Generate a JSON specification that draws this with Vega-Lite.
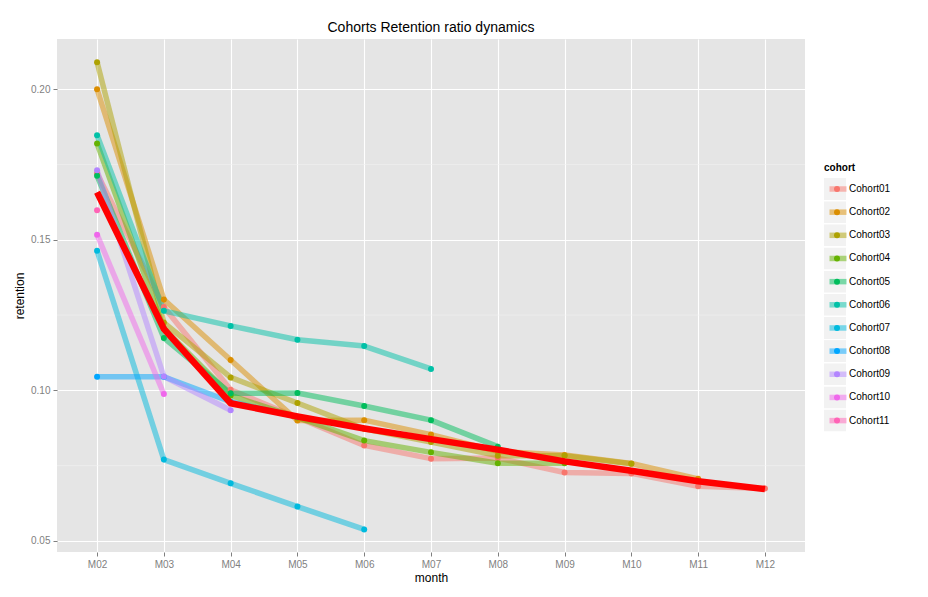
{
  "$schema": "https://vega.github.io/schema/vega-lite/v6.json",
  "width": 748,
  "height": 513,
  "autosize": {"type": "none"},
  "padding": {"left": 57, "top": 39, "right": 123, "bottom": 45},
  "background": "white",
  "title": {
    "text": "Cohorts Retention ratio dynamics",
    "anchor": "middle",
    "fontSize": 14,
    "fontWeight": "normal",
    "color": "black",
    "font": "Liberation Sans",
    "offset": 4
  },
  "config": {
    "font": "Liberation Sans",
    "view": {"fill": "#e5e5e5", "stroke": null},
    "axis": {
      "domain": false,
      "gridColor": "white",
      "gridWidth": 1.1,
      "tickColor": "#7f7f7f",
      "tickSize": 4,
      "labelColor": "#7f7f7f",
      "labelFontSize": 10,
      "labelFont": "Liberation Sans",
      "titleFont": "Liberation Sans",
      "titleFontSize": 12,
      "titleFontWeight": "normal",
      "titleColor": "black"
    },
    "legend": {
      "orient": "none",
      "legendY": 124,
      "titleFontSize": 10,
      "titleFontWeight": "bold",
      "titleColor": "black",
      "titlePadding": 5,
      "labelFontSize": 10,
      "labelColor": "black",
      "clipHeight": 22,
      "rowPadding": 1.16
    }
  },
  "datasets": {
    "keys": [
      {"cohort": "Cohort01"}, {"cohort": "Cohort02"}, {"cohort": "Cohort03"},
      {"cohort": "Cohort04"}, {"cohort": "Cohort05"}, {"cohort": "Cohort06"},
      {"cohort": "Cohort07"}, {"cohort": "Cohort08"}, {"cohort": "Cohort09"},
      {"cohort": "Cohort10"}, {"cohort": "Cohort11"}
    ],
    "cohorts": [
      {"cohort": "Cohort01", "month": "M02", "retention": 0.172},
      {"cohort": "Cohort01", "month": "M03", "retention": 0.1277},
      {"cohort": "Cohort01", "month": "M04", "retention": 0.1002},
      {"cohort": "Cohort01", "month": "M05", "retention": 0.091},
      {"cohort": "Cohort01", "month": "M06", "retention": 0.0817},
      {"cohort": "Cohort01", "month": "M07", "retention": 0.0773},
      {"cohort": "Cohort01", "month": "M08", "retention": 0.0775},
      {"cohort": "Cohort01", "month": "M09", "retention": 0.0727},
      {"cohort": "Cohort01", "month": "M10", "retention": 0.0724},
      {"cohort": "Cohort01", "month": "M11", "retention": 0.0681},
      {"cohort": "Cohort01", "month": "M12", "retention": 0.0674},
      {"cohort": "Cohort02", "month": "M02", "retention": 0.2},
      {"cohort": "Cohort02", "month": "M03", "retention": 0.1302},
      {"cohort": "Cohort02", "month": "M04", "retention": 0.1101},
      {"cohort": "Cohort02", "month": "M05", "retention": 0.09},
      {"cohort": "Cohort02", "month": "M06", "retention": 0.0901},
      {"cohort": "Cohort02", "month": "M07", "retention": 0.0853},
      {"cohort": "Cohort02", "month": "M08", "retention": 0.0797},
      {"cohort": "Cohort02", "month": "M09", "retention": 0.0785},
      {"cohort": "Cohort02", "month": "M10", "retention": 0.0757},
      {"cohort": "Cohort02", "month": "M11", "retention": 0.0706},
      {"cohort": "Cohort03", "month": "M02", "retention": 0.209},
      {"cohort": "Cohort03", "month": "M03", "retention": 0.1225},
      {"cohort": "Cohort03", "month": "M04", "retention": 0.1043},
      {"cohort": "Cohort03", "month": "M05", "retention": 0.0958},
      {"cohort": "Cohort03", "month": "M06", "retention": 0.0872},
      {"cohort": "Cohort03", "month": "M07", "retention": 0.0828},
      {"cohort": "Cohort03", "month": "M08", "retention": 0.0783},
      {"cohort": "Cohort03", "month": "M09", "retention": 0.0783},
      {"cohort": "Cohort03", "month": "M10", "retention": 0.0756},
      {"cohort": "Cohort04", "month": "M02", "retention": 0.182},
      {"cohort": "Cohort04", "month": "M03", "retention": 0.1205},
      {"cohort": "Cohort04", "month": "M04", "retention": 0.0983},
      {"cohort": "Cohort04", "month": "M05", "retention": 0.091},
      {"cohort": "Cohort04", "month": "M06", "retention": 0.0833},
      {"cohort": "Cohort04", "month": "M07", "retention": 0.0794},
      {"cohort": "Cohort04", "month": "M08", "retention": 0.0758},
      {"cohort": "Cohort04", "month": "M09", "retention": 0.0758},
      {"cohort": "Cohort05", "month": "M02", "retention": 0.1713},
      {"cohort": "Cohort05", "month": "M03", "retention": 0.1174},
      {"cohort": "Cohort05", "month": "M04", "retention": 0.099},
      {"cohort": "Cohort05", "month": "M05", "retention": 0.0991},
      {"cohort": "Cohort05", "month": "M06", "retention": 0.0948},
      {"cohort": "Cohort05", "month": "M07", "retention": 0.0901},
      {"cohort": "Cohort05", "month": "M08", "retention": 0.0813},
      {"cohort": "Cohort06", "month": "M02", "retention": 0.1847},
      {"cohort": "Cohort06", "month": "M03", "retention": 0.1264},
      {"cohort": "Cohort06", "month": "M04", "retention": 0.1214},
      {"cohort": "Cohort06", "month": "M05", "retention": 0.1168},
      {"cohort": "Cohort06", "month": "M06", "retention": 0.1147},
      {"cohort": "Cohort06", "month": "M07", "retention": 0.1071},
      {"cohort": "Cohort07", "month": "M02", "retention": 0.1464},
      {"cohort": "Cohort07", "month": "M03", "retention": 0.077},
      {"cohort": "Cohort07", "month": "M04", "retention": 0.0691},
      {"cohort": "Cohort07", "month": "M05", "retention": 0.0614},
      {"cohort": "Cohort07", "month": "M06", "retention": 0.0538},
      {"cohort": "Cohort08", "month": "M02", "retention": 0.1045},
      {"cohort": "Cohort08", "month": "M03", "retention": 0.1045},
      {"cohort": "Cohort08", "month": "M04", "retention": 0.0962},
      {"cohort": "Cohort08", "month": "M05", "retention": 0.0912},
      {"cohort": "Cohort09", "month": "M02", "retention": 0.1731},
      {"cohort": "Cohort09", "month": "M03", "retention": 0.1046},
      {"cohort": "Cohort09", "month": "M04", "retention": 0.0934},
      {"cohort": "Cohort10", "month": "M02", "retention": 0.1517},
      {"cohort": "Cohort10", "month": "M03", "retention": 0.0988},
      {"cohort": "Cohort11", "month": "M02", "retention": 0.1598}
    ],
    "mean": [
      {"month": "M02", "retention": 0.1658},
      {"month": "M03", "retention": 0.1204},
      {"month": "M04", "retention": 0.0957},
      {"month": "M05", "retention": 0.0913},
      {"month": "M06", "retention": 0.0873},
      {"month": "M07", "retention": 0.0838},
      {"month": "M08", "retention": 0.0803},
      {"month": "M09", "retention": 0.0764},
      {"month": "M10", "retention": 0.0733},
      {"month": "M11", "retention": 0.0698},
      {"month": "M12", "retention": 0.0672}
    ],
    "minor": [
      {"retention": 0.075},
      {"retention": 0.125},
      {"retention": 0.175}
    ]
  },
  "layer": [
    {
      "data": {"name": "minor"},
      "mark": {"type": "rule", "color": "#f2f2f2", "strokeWidth": 0.6},
      "encoding": {
        "y": {"field": "retention", "type": "quantitative"}
      }
    },
    {
      "data": {"name": "keys"},
      "mark": {"type": "square", "opacity": 0},
      "encoding": {
        "x": {
          "datum": "M02",
          "type": "ordinal",
          "title": "month",
          "scale": {"type": "point", "padding": 0.6},
          "axis": {"labelAngle": 0, "labelPadding": 3, "titlePadding": 3, "grid": true}
        },
        "y": {
          "datum": 0.1,
          "type": "quantitative",
          "title": "retention",
          "scale": {"domain": [0.0463, 0.2167], "nice": false, "zero": false},
          "axis": {"values": [0.05, 0.1, 0.15, 0.2], "format": ".2f", "labelPadding": 3, "titlePadding": 4}
        },
        "color": {
          "field": "cohort",
          "type": "nominal",
          "scale": {"range": ["#f2f2f2"]},
          "legend": {
            "title": "cohort",
            "legendX": 767,
            "symbolType": "square",
            "symbolSize": 484,
            "symbolOpacity": 1,
            "symbolStrokeWidth": 0,
            "labelExpr": "''"
          }
        }
      }
    },
    {
      "data": {"name": "cohorts"},
      "mark": {"type": "line", "strokeWidth": 5.5, "opacity": 0.5, "strokeCap": "butt", "strokeJoin": "round"},
      "encoding": {
        "x": {"field": "month", "type": "ordinal", "title": "month"},
        "y": {"field": "retention", "type": "quantitative", "title": "retention"},
        "stroke": {
          "field": "cohort",
          "type": "nominal",
          "scale": {
            "range": ["#F8766D", "#DB8E00", "#AEA200", "#64B200", "#00BD5C", "#00C1A7", "#00BADE", "#00A6FF", "#B385FF", "#EF67EB", "#FF63B6"]
          },
          "legend": {
            "title": " ",
            "legendX": 769.5,
            "symbolType": "stroke",
            "symbolSize": 289,
            "symbolStrokeWidth": 5.5,
            "symbolOpacity": 0.5,
            "labelOffset": -0.5
          }
        },
        "detail": {"field": "cohort"}
      }
    },
    {
      "data": {"name": "cohorts"},
      "mark": {"type": "circle", "size": 36, "opacity": 1},
      "encoding": {
        "x": {"field": "month", "type": "ordinal"},
        "y": {"field": "retention", "type": "quantitative"},
        "fill": {
          "field": "cohort",
          "type": "nominal",
          "scale": {
            "domain": ["Cohort01", "Cohort02", "Cohort03", "Cohort04", "Cohort05", "Cohort06", "Cohort07", "Cohort08", "Cohort09", "Cohort10", "Cohort11"],
            "range": ["#F8766D", "#DB8E00", "#AEA200", "#64B200", "#00BD5C", "#00C1A7", "#00BADE", "#00A6FF", "#B385FF", "#EF67EB", "#FF63B6"]
          },
          "legend": {
            "title": " ",
            "legendX": 775,
            "symbolType": "circle",
            "symbolSize": 36,
            "symbolOpacity": 1,
            "symbolStrokeWidth": 0,
            "labelExpr": "''"
          }
        }
      }
    },
    {
      "data": {"name": "mean"},
      "mark": {"type": "line", "color": "red", "strokeWidth": 6.5, "strokeCap": "butt", "strokeJoin": "round"},
      "encoding": {
        "x": {"field": "month", "type": "ordinal"},
        "y": {"field": "retention", "type": "quantitative"}
      }
    }
  ]
}
